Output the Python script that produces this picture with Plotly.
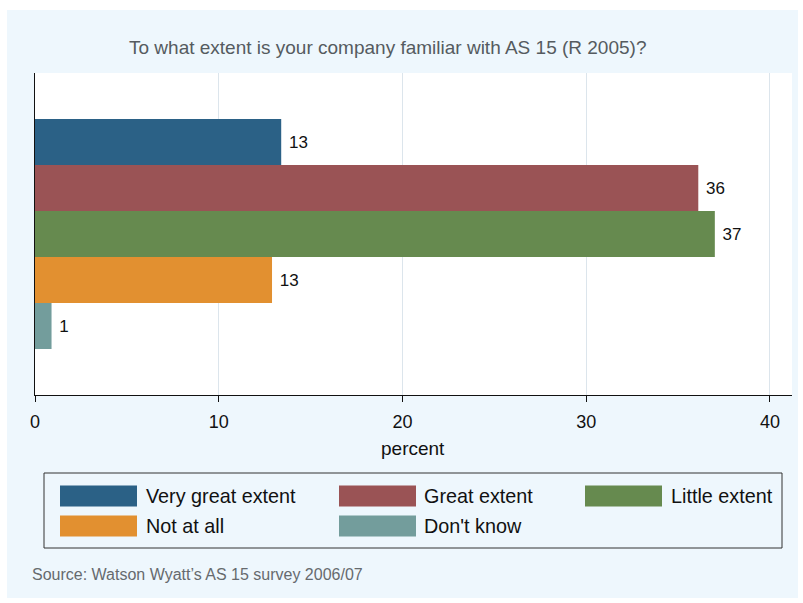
import plotly.graph_objects as go

# ---- data ----
categories = ["Very great extent", "Great extent", "Little extent", "Not at all", "Don't know"]
percent = [13.4, 36.1, 37.0, 12.9, 0.9]
colors = ["#2B6186", "#9A5355", "#668A4F", "#E29030", "#739D9C"]
x_ticks = [0, 10, 20, 30, 40]

title_text = "To what extent is your company familiar with AS 15 (R 2005)?"
xaxis_title = "percent"
source_text = "Source: Watson Wyatt\u2019s AS 15 survey 2006/07"

W, H = 803, 603
ML, MR, MT, MB = 35, 11, 73, 208
PW, PH = W - ML - MR, H - MT - MB

NARROW = "Liberation Sans Narrow, Liberation Sans, Arial, sans-serif"
REG = "Liberation Sans, Arial, Helvetica, sans-serif"
BG = "#EEF7FD"


def px(x):
    return (x - ML) / PW


def py(y):
    return (H - MB - y) / PH


fig = go.Figure()
for name, val, col in zip(categories, percent, colors):
    fig.add_trace(go.Bar(
        y=["q"], x=[val], name=name, orientation="h",
        marker=dict(color=col, line=dict(width=0)),
        text=["\u00a0" + f"{val:.0f}"], textposition="outside",
        textfont=dict(family=REG, size=17, color="#111111"),
        cliponaxis=False, showlegend=False, hoverinfo="x+name",
    ))

shapes = []
annotations = []

# white outer frame strips
for (x0, y0, x1, y1) in [(0, 0, W, 10), (0, 0, 7, H), (798, 0, W, H), (0, 598, W, H)]:
    shapes.append(dict(type="rect", xref="paper", yref="paper",
                       x0=px(x0), x1=px(x1), y0=py(y0), y1=py(y1),
                       fillcolor="white", line=dict(width=0), layer="above"))

# legend box
shapes.append(dict(type="rect", xref="paper", yref="paper",
                   x0=px(44), x1=px(782), y0=py(473), y1=py(548),
                   fillcolor=BG, line=dict(color="#333333", width=1)))
col_sw = [60, 339, 585]
col_tx = [144, 422, 669]
row_y = [496, 526]
for i, (name, col) in enumerate(zip(categories, colors)):
    r, c = divmod(i, 3)
    shapes.append(dict(type="rect", xref="paper", yref="paper",
                       x0=px(col_sw[c]), x1=px(col_sw[c] + 77),
                       y0=py(row_y[r] - 10.5), y1=py(row_y[r] + 10.5),
                       fillcolor=col, line=dict(width=0)))
    annotations.append(dict(xref="paper", yref="paper", x=px(col_tx[c]), y=py(row_y[r]),
                            text=name, showarrow=False, xanchor="left", yanchor="middle",
                            font=dict(family=REG, size=19.8, color="#111111")))

# title
annotations.append(dict(xref="paper", yref="paper", x=px(387), y=py(48), text=title_text,
                        showarrow=False, xanchor="center", yanchor="middle",
                        font=dict(family=NARROW, size=19, color="#555B60")))
# x axis title
annotations.append(dict(xref="paper", yref="paper", x=px(413), y=py(448), text=xaxis_title,
                        showarrow=False, xanchor="center", yanchor="middle",
                        font=dict(family=NARROW, size=19, color="#111111")))
# source
annotations.append(dict(xref="paper", yref="paper", x=px(30), y=py(574), text=source_text,
                        showarrow=False, xanchor="left", yanchor="middle",
                        font=dict(family=NARROW, size=16, color="#666A6E")))

fig.update_layout(
    width=W, height=H,
    margin=dict(l=ML, r=MR, t=MT, b=MB, pad=0),
    paper_bgcolor=BG, plot_bgcolor="white",
    barmode="group", bargap=2 / 7, bargroupgap=0,
    showlegend=False,
    shapes=shapes, annotations=annotations,
    xaxis=dict(range=[0, 41.2], tickvals=x_ticks, ticktext=[str(t) for t in x_ticks],
               ticks="outside", ticklen=6, tickcolor="#111111", tickwidth=1,
               showline=True, linecolor="#111111", linewidth=1,
               showgrid=True, gridcolor="#DCE5EC", gridwidth=1, zeroline=False,
               ticklabelstandoff=4,
               tickfont=dict(family=NARROW, size=18, color="#111111")),
    yaxis=dict(range=[0.5, -0.5], showticklabels=False, ticks="",
               showline=True, linecolor="#111111", linewidth=1,
               showgrid=False, zeroline=False),
)

fig.write_html("out.html", config={"displayModeBar": False},
               post_script="document.body.style.margin='0';")
